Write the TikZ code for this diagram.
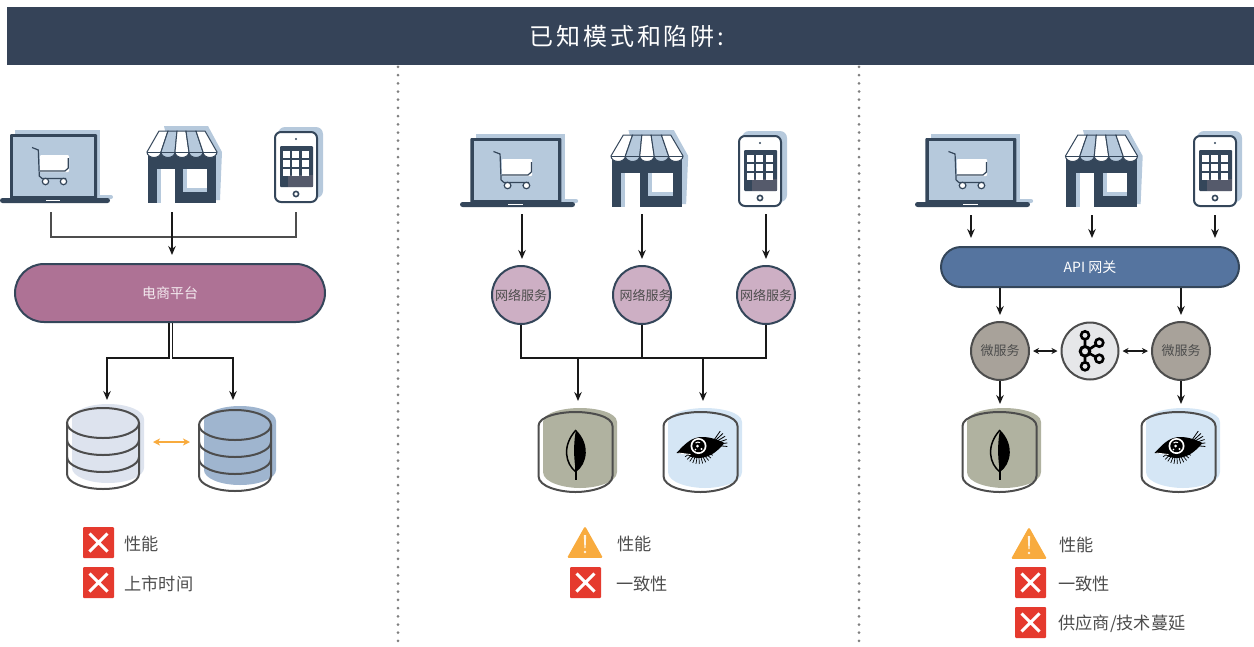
\documentclass[tikz,border=0pt]{standalone}
\usepackage{fontspec}
\setmainfont{Noto Sans CJK SC}
\newfontfamily\headfont[LetterSpace=12]{Noto Sans CJK SC}
\usetikzlibrary{arrows.meta,positioning}

\definecolor{navy}{HTML}{34465A}
\definecolor{headbar}{HTML}{354358}
\definecolor{iconblue}{HTML}{B6C9DC}
\definecolor{phonegrey}{HTML}{555A6B}
\definecolor{mauve}{HTML}{AE7295}
\definecolor{lilac}{HTML}{CDAFC4}
\definecolor{steel}{HTML}{55749F}
\definecolor{stone}{HTML}{A8A29A}
\definecolor{mist}{HTML}{E6E7E9}
\definecolor{inkgrey}{HTML}{4D4D4D}
\definecolor{dbpale}{HTML}{DDE3EE}
\definecolor{dbblue}{HTML}{9FB5CF}
\definecolor{dbolive}{HTML}{B0B2A0}
\definecolor{dbsky}{HTML}{D5E6F5}
\definecolor{alertred}{HTML}{E53A2E}
\definecolor{warnorange}{HTML}{F8AB3E}

\tikzset{
  cylshape/.style={insert path={
    (-37,-26) .. controls (-37,-36) and (-15,-40) .. (0,-40)
    .. controls (15,-40) and (37,-36) .. (37,-26) -- (37,24)
    .. controls (37,35) and (15,40) .. (0,40)
    .. controls (-15,40) and (-37,35) .. (-37,24) -- cycle}},
  pics/laptop/.style={code={
    \fill[iconblue] (-40,-35) rectangle (45,33);
    \fill[iconblue, rounded corners=2pt] (-35,30) rectangle (58,34);
    \fill[navy, rounded corners=1pt] (-45,-31) rectangle (42,34);
    \fill[iconblue] (-42,-28) rectangle (39,31);
    \fill[navy, rounded corners=2.5pt] (-55,33) rectangle (55,38);
    \fill[white] (-9,34.5) rectangle (5,36);
    \fill[white, rounded corners=1pt] (-15,-10) rectangle (14,7);
    \draw[navy, line width=1.2pt] (-23,-17.5) -- (-16.7,-15) -- (-15.7,11) -- (-13,13.5) -- (11,13.5);
    \draw[navy, line width=1.2pt] (13.3,-7) -- (13.3,3) -- (10,6) -- (-15,6);
    \draw[navy, fill=white, line width=1.2pt] (-9.5,16.5) circle (3.2pt) (8.5,16.5) circle (3.2pt);
  }},
  pics/store/.style={code={
    \fill[iconblue] (-18,-41) -- (26,-41) -- (40,-15) -- (38,33) -- (0,33) -- cycle;
    \fill[navy] (-34,-15) rectangle (34,36);
    \fill[iconblue] (-25,2) rectangle (-7,36);
    \fill[white] (-21,2) rectangle (-7,36);
    \fill[iconblue] (1,2) rectangle (25,25);
    \fill[white] (5,2) rectangle (25,21);
    \foreach \ta/\ba/\tb/\bb/\col in {-23/-35/-14/-21/white, -14/-21/-5/-7/iconblue, -5/-7/4/7/white, 4/7/14/21/iconblue, 14/21/23/35/white}
      \filldraw[fill=\col, draw=navy, line width=1pt] (\ta,-36) -- (\tb,-36) -- (\bb,-15) arc[start angle=0, end angle=-180, x radius=7pt, y radius=5.5pt] -- cycle;
    \draw[navy, line width=1pt] (-35,-15) -- (35,-15);
  }},
  pics/phone/.style={code={
    \fill[iconblue, rounded corners=7pt] (-18,-40) rectangle (27,31);
    \filldraw[fill=white, draw=navy, line width=2pt, rounded corners=6pt] (-21,-35) rectangle (21,35);
    \fill[navy, rounded corners=1pt] (-16,-21) rectangle (17,20);
    \fill[phonegrey] (-8,8) rectangle (17,20);
    \foreach \cx in {-13,-4,6}
      \foreach \cy in {-16,-7,2}
        \fill[white] (\cx,\cy) rectangle ++(6.5,6.5);
    \fill[navy] (0,-28) circle (1.2pt);
    \draw[navy, line width=1.6pt] (0,27) circle (2.6pt);
  }},
  pics/dbstack/.style={code={
    \fill[#1] (-31,-4) arc[start angle=180, end angle=0, x radius=36pt, y radius=15pt] -- (41,45)
      arc[start angle=0, end angle=-180, x radius=36pt, y radius=15pt] -- cycle;
    \draw[inkgrey, line width=2pt] (0,0) ellipse[x radius=36pt, y radius=15pt];
    \draw[inkgrey, line width=2pt] (-36,0) -- (-36,51) arc[start angle=180, end angle=360, x radius=36pt, y radius=15pt] -- (36,0);
    \foreach \bandy in {17,34}
      \draw[inkgrey, line width=2pt] (-36,\bandy) arc[start angle=180, end angle=360, x radius=36pt, y radius=15pt];
  }},
  pics/dbleaf/.style={code={
    \fill[dbolive, shift={(4.5,-4)}, cylshape];
    \draw[inkgrey, line width=2pt, cylshape];
    \draw[black, line width=1.5pt] (0.5,-22) .. controls (-14,-6) and (-10,12) .. (0.5,20);
    \fill[black] (0.5,-22) .. controls (15,-8) and (12,12) .. (0.5,20) .. controls (-2,6) and (-2,-10) .. cycle;
    \draw[black, line width=1.2pt] (0.5,10) -- (0.5,28);
  }},
  pics/dbeye/.style={code={
    \fill[dbsky, shift={(4.5,-4)}, cylshape];
    \draw[inkgrey, line width=2pt, cylshape];
    \fill[black] (-24,1) .. controls (-14,-10) and (-8,-15) .. (2,-15) .. controls (10,-15) and (18,-12) .. (24,-9)
      .. controls (18,-2) and (10,6) .. (-2,6) .. controls (-8,6) and (-12,4) .. (-14,2) -- cycle;
    \foreach \ang in {15,27,...,150}
      \draw[black, line width=.7pt] (-2,-4) ++(\ang:9) -- ++(\ang:7);
    \foreach \ang in {-55,-43,...,10}
      \draw[black, line width=.8pt] (10,-7) ++(\ang:7) -- ++(\ang:10);
    \draw[white, line width=.8pt] (-22,1) -- (-10,2.5);
    \fill[white] (-2,-6) circle (8pt);
    \fill[black] (-2,-6) circle (6.2pt);
    \draw[white, line width=1pt] (-5,-9) arc[start angle=130, end angle=60, radius=4pt];
    \fill[white] (-3,-6) circle (1.5pt) (1,-3) circle (1.1pt) (-5,-2.5) circle (.8pt);
  }},
  pics/kafkamark/.style={code={
    \draw[black, line width=3pt] (0,0) circle (4.8pt);
    \draw[black, line width=2.6pt] (0,-16) circle (4pt) (0,15) circle (4pt) (14.3,-8.6) circle (4pt) (14.3,7.4) circle (4pt);
    \draw[black, line width=2.6pt] (0,-12) -- (0,-4.6) (0,4.6) -- (0,11) (4.2,-2) -- (11,-6.5) (4.2,2) -- (11,5.8);
  }}
}

\begin{document}
\begin{tikzpicture}[x=1pt, y=-1pt, font=\fontsize{13}{15}\selectfont]
    % Styles
    \tikzstyle{arrow} = [-{Stealth[length=9pt, width=7.5pt, inset=3pt]}, line width=1.5pt, color=black!90]
    \tikzstyle{biarrow} = [{Stealth[length=6pt, width=6pt, inset=2pt]}-{Stealth[length=6pt, width=6pt, inset=2pt]}, line width=1.4pt, color=black!90, shorten >=3pt, shorten <=3pt]
    \tikzstyle{bracket} = [line width=1.2pt, color=inkgrey]
    \tikzstyle{busline} = [line width=1.5pt, color=black!90]
    \tikzstyle{divider} = [color=black!50, line width=3pt, line cap=round, dash pattern=on 0pt off 8.2pt]
    \tikzstyle{pillA} = [rectangle, draw=navy, line width=2pt, fill=mauve, rounded corners=29pt, minimum width=310pt, minimum height=58pt, text=white!85!mauve, font=\fontsize{14}{16}\selectfont]
    \tikzstyle{pillB} = [rectangle, draw=navy, line width=2pt, fill=steel, rounded corners=20pt, minimum width=298pt, minimum height=40pt, text=white, font=\fontsize{14}{16}\selectfont]
    \tikzstyle{svc} = [circle, draw=navy, line width=2pt, fill=lilac, minimum size=58pt, inner sep=0pt, text=inkgrey]
    \tikzstyle{micro} = [circle, draw=inkgrey, line width=2pt, fill=stone, minimum size=58pt, inner sep=0pt, text=inkgrey]
    \tikzstyle{hub} = [circle, draw=inkgrey, line width=2pt, fill=mist, minimum size=57pt, inner sep=0pt]
    \tikzstyle{legend} = [font=\fontsize{17.2}{20}\selectfont, text=inkgrey, inner sep=0pt, yshift=-1.5pt]
    \tikzstyle{redbox} = [rectangle, fill=alertred, rounded corners=1pt, minimum size=31pt, inner sep=0pt, path picture={
        \draw[white, line width=3pt, shift={(path picture bounding box.center)}] (-9,-9) -- (9,9) (-9,9) -- (9,-9);}]
    \tikzstyle{warnbox} = [rectangle, minimum width=36pt, minimum height=31pt, inner sep=0pt, path picture={
        \fill[warnorange, rounded corners=1.5pt, shift={(path picture bounding box.center)}] (0,-16) -- (18,16) -- (-18,16) -- cycle;
        \fill[white!85!warnorange, shift={(path picture bounding box.center)}] (-1.2,-7) -- (1.2,-7) -- (.6,6) -- (-.6,6) -- cycle (0,10) circle (1.4pt);}]

    \useasboundingbox (0,0) rectangle (1254,646);

    % Title and dividers
    \node [rectangle, fill=headbar, minimum width=1247pt, minimum height=58pt, inner sep=0pt, anchor=north west] (titlebar) at (7,7) {};
    \node [text=white, font=\headfont\fontsize{24}{28}\selectfont] (titletext) at (627,36) {已知模式和陷阱:};
    \coordinate (divA) at (398,646);
    \coordinate (divB) at (859,646);
    \draw [divider] ([yshift=-1.5pt]titlebar.south -| divA) -- (divA);
    \draw [divider] ([yshift=-1.5pt]titlebar.south -| divB) -- (divB);

    % Left panel
    \pic at (55,165) {laptop};
    \pic at (182,167) {store};
    \pic at (296,167) {phone};
    \node [pillA] (platform) at (170,293) {电商平台};
    \pic at (103,423) {dbstack=dbpale};
    \pic at (235,425) {dbstack=dbblue};

    \coordinate (lapOutA) at (51,212);
    \coordinate (storeOutA) at (172,212);
    \coordinate (phoneOutA) at (296,212);
    \coordinate (joinA) at (172,237);
    \coordinate (dbInA) at (107,400);
    \coordinate (dbInB) at (233,400);
    \coordinate (syncA) at (153,442);
    \coordinate (syncB) at (190,442);

    \draw [bracket] (lapOutA) -- (lapOutA |- joinA) -- (phoneOutA |- joinA) -- (phoneOutA);
    \draw [arrow, shorten >=8pt] (storeOutA) -- (storeOutA |- platform.north);
    \draw [arrow, line width=1.7pt] ([xshift=-.8pt]platform.south) -- ++(0,35) -| (dbInA);
    \draw [arrow, line width=1.7pt] ([xshift=2.4pt]platform.south) -- ++(0,35) -| (dbInB);
    \draw [{Stealth[length=7pt, width=7pt, inset=2pt]}-{Stealth[length=7pt, width=7pt, inset=2pt]}, color=warnorange, line width=1.5pt] (syncA) -- (syncB);

    \node [redbox] (markA) at (98.5,542.5) {};
    \node [redbox] (markB) at (98.5,582.5) {};
    \node [legend, right=10pt of markA] (textA) {性能};
    \node [legend, right=10pt of markB] (textB) {上市时间};

    % Middle panel
    \pic [xscale=1.045] at (517.5,169) {laptop};
    \pic [xscale=1.03] at (647,171) {store};
    \pic at (760,171) {phone};
    \node [svc] (svcA) at (521,295) {网络服务};
    \node [svc] (svcB) at (642,295) {\makebox[52pt][c]{\hspace{7pt}\raisebox{-2pt}{网络服务}}};
    \node [svc] (svcC) at (766,295) {网络服务};
    \pic at (575.5,452) {dbleaf};
    \pic at (700.5,452) {dbeye};

    \coordinate (lapOutB) at (522,214);
    \coordinate (storeOutB) at (642,214);
    \coordinate (phoneOutB) at (766,214);
    \coordinate (joinB) at (521,358);
    \coordinate (dbInC) at (578,401);
    \coordinate (dbInD) at (703,401);

    \draw [arrow, shorten >=6pt] (lapOutB) -- (lapOutB |- svcA.north);
    \draw [arrow, shorten >=6pt] (storeOutB) -- (storeOutB |- svcB.north);
    \draw [arrow, shorten >=6pt] (phoneOutB) -- (phoneOutB |- svcC.north);
    \draw [busline] (svcA.south) -- (svcA |- joinB) -- (svcC |- joinB) -- (svcC.south);
    \draw [busline] (svcB.south) -- (svcB |- joinB);
    \draw [arrow] (dbInC |- joinB) -- (dbInC);
    \draw [arrow] (dbInD |- joinB) -- (dbInD);

    \node [warnbox] (markC) at (585,542) {};
    \node [redbox] (markD) at (585.5,582.5) {};
    \node [legend, right=14pt of markC] (textC) {性能};
    \node [legend, right=15pt of markD] (textD) {一致性};

    % Right panel
    \pic [xscale=1.045] at (972.5,169) {laptop};
    \pic [xscale=1.03] at (1101.5,171) {store};
    \pic at (1215,171) {phone};
    \node [pillB] (gateway) at (1090,267) {API 网关};
    \node [micro] (msA) at (1000,351) {微服务};
    \node [hub] (kafka) at (1090,351) {};
    \node [micro] (msB) at (1181,351) {微服务};
    \pic at (1085,351.3) {kafkamark};
    \pic at (999.5,452) {dbleaf};
    \pic at (1178.5,452) {dbeye};

    \coordinate (lapOutC) at (971,215);
    \coordinate (storeOutC) at (1092,215);
    \coordinate (phoneOutC) at (1215,215);
    \coordinate (dbInE) at (1000,404);
    \coordinate (dbInF) at (1181,404);

    \draw [arrow, shorten >=8pt] (lapOutC) -- (lapOutC |- gateway.north);
    \draw [arrow, shorten >=8pt] (storeOutC) -- (storeOutC |- gateway.north);
    \draw [arrow, shorten >=8pt] (phoneOutC) -- (phoneOutC |- gateway.north);
    \draw [arrow, shorten >=6pt] (msA |- gateway.south) -- (msA.north);
    \draw [arrow, shorten >=6pt] (msB |- gateway.south) -- (msB.north);
    \draw [biarrow] (msA) -- (kafka);
    \draw [biarrow] (kafka) -- (msB);
    \draw [arrow] (msA.south) -- (dbInE);
    \draw [arrow] (msB.south) -- (dbInF);

    \node [warnbox] (markE) at (1029,543) {};
    \node [redbox] (markF) at (1030.5,582.5) {};
    \node [redbox] (markG) at (1030.5,622.5) {};
    \node [legend, right=12pt of markE] (textE) {性能};
    \node [legend, right=12pt of markF] (textF) {一致性};
    \node [legend, right=12pt of markG] (textG) {供应商/技术蔓延};
\end{tikzpicture}
\end{document}
